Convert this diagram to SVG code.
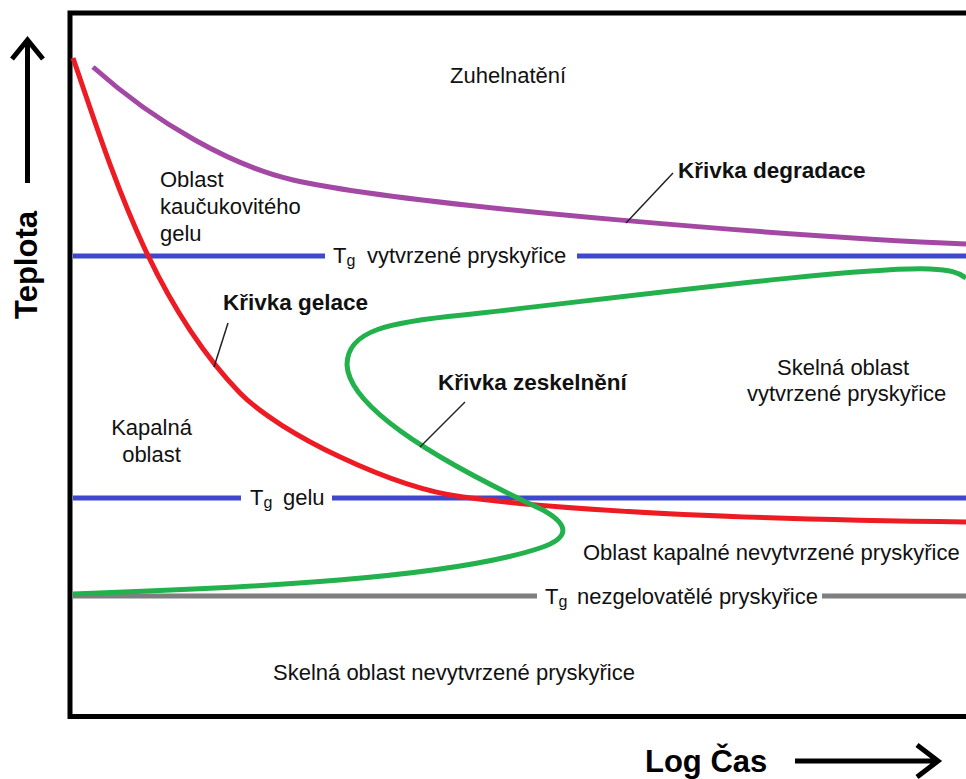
<svg xmlns="http://www.w3.org/2000/svg" width="966" height="779" viewBox="0 0 966 779">
<style>
.t{font-family:"Liberation Sans",Arial,sans-serif;font-size:22px;fill:#111}
.b{font-family:"Liberation Sans",Arial,sans-serif;font-size:22.5px;font-weight:bold;fill:#111}
.ax{font-family:"Liberation Sans",Arial,sans-serif;font-size:31px;font-weight:bold;fill:#000}
.sub{font-size:16px}
.c{fill:none;stroke-width:5}
.k{fill:none;stroke:#000;stroke-width:5}
.lead{fill:none;stroke:#222;stroke-width:1.5}
</style>
<rect width="966" height="779" fill="#fff"/>
<g id="frame"><path class="k" d="M966,13 H70 V716.5 H966" stroke-width="6"/></g>
<g id="axis-y">
<path class="k" d="M27.5,183 V40 M12,59 L27.5,40 L43,59"/>
<text class="ax" font-size="30" transform="translate(37,265) rotate(-90)" text-anchor="middle">Teplota</text>
</g>
<g id="axis-x">
<path class="k" d="M795,761 H938 M917,745 L938,761 L917,777"/>
<text class="ax" x="645" y="772">Log Čas</text>
</g>
<g id="tg-cured">
<path class="c" stroke="#3f48cc" d="M73,256 H325 M577,256 H966"/>
<text class="t" x="333" y="263">T<tspan class="sub" dy="3">g</tspan><tspan x="367" dy="-3">vytvrzené pryskyřice</tspan></text>
</g>
<g id="tg-gel">
<path class="c" stroke="#3f48cc" d="M73,498 H241 M332,498 H966"/>
<text class="t" x="250" y="505">T<tspan class="sub" dy="3">g</tspan><tspan x="283" dy="-3">gelu</tspan></text>
</g>
<g id="tg-ungelable">
<path class="c" stroke="#7f7f7f" d="M73,596 H537 M822,596 H966"/>
<text class="t" x="545" y="604">T<tspan class="sub" dy="3">g</tspan><tspan x="577" dy="-3">nezgelovatělé pryskyřice</tspan></text>
</g>
<g id="degradation-curve">
<path class="c" stroke="#a349a4" d="M93,67 C158,125 233,166 293,180 C413,207 816,238 966,244"/>
</g>
<g id="gelation-curve">
<path class="c" stroke="#ed1c24" d="M73,58 C110,165 150,300 240,393 C280,434 393,488 463,497 C600,515 800,520 966,522"/>
</g>
<g id="vitrification-curve">
<path class="c" stroke="#22b14c" d="M73,594 C250,588 450,578 540,548 C570,538 570,525 543,510 C500,490 350,420 347,365 C347,330 390,322 463,315 C600,300 860,266 930,269 C950,270 958,272 966,278"/>
</g>
<g id="connectors">
<path class="lead" d="M673,173 L626,223"/>
<path class="lead" d="M228,323 L214,367"/>
<path class="lead" d="M465,402 L420,447"/>
</g>
<g id="label-char"><text class="t" x="450" y="83">Zuhelnatění</text></g>
<g id="label-rubber">
<text class="t" x="160" y="187">Oblast</text>
<text class="t" x="160" y="214">kaučukovitého</text>
<text class="t" x="160" y="241">gelu</text>
</g>
<g id="label-degradation"><text class="b" x="678" y="178">Křivka degradace</text></g>
<g id="label-gelation"><text class="b" x="223" y="310">Křivka gelace</text></g>
<g id="label-vitrification"><text class="b" x="438" y="390">Křivka zeskelnění</text></g>
<g id="label-glass-cured">
<text class="t" x="777" y="375">Skelná oblast</text>
<text class="t" x="747" y="401">vytvrzené pryskyřice</text>
</g>
<g id="label-liquid">
<text class="t" x="151.5" y="435" text-anchor="middle">Kapalná</text>
<text class="t" x="151.5" y="462" text-anchor="middle">oblast</text>
</g>
<g id="label-liquid-uncured"><text class="t" x="583" y="560">Oblast kapalné nevytvrzené pryskyřice</text></g>
<g id="label-glass-uncured"><text class="t" x="273" y="680">Skelná oblast nevytvrzené pryskyřice</text></g>
</svg>
